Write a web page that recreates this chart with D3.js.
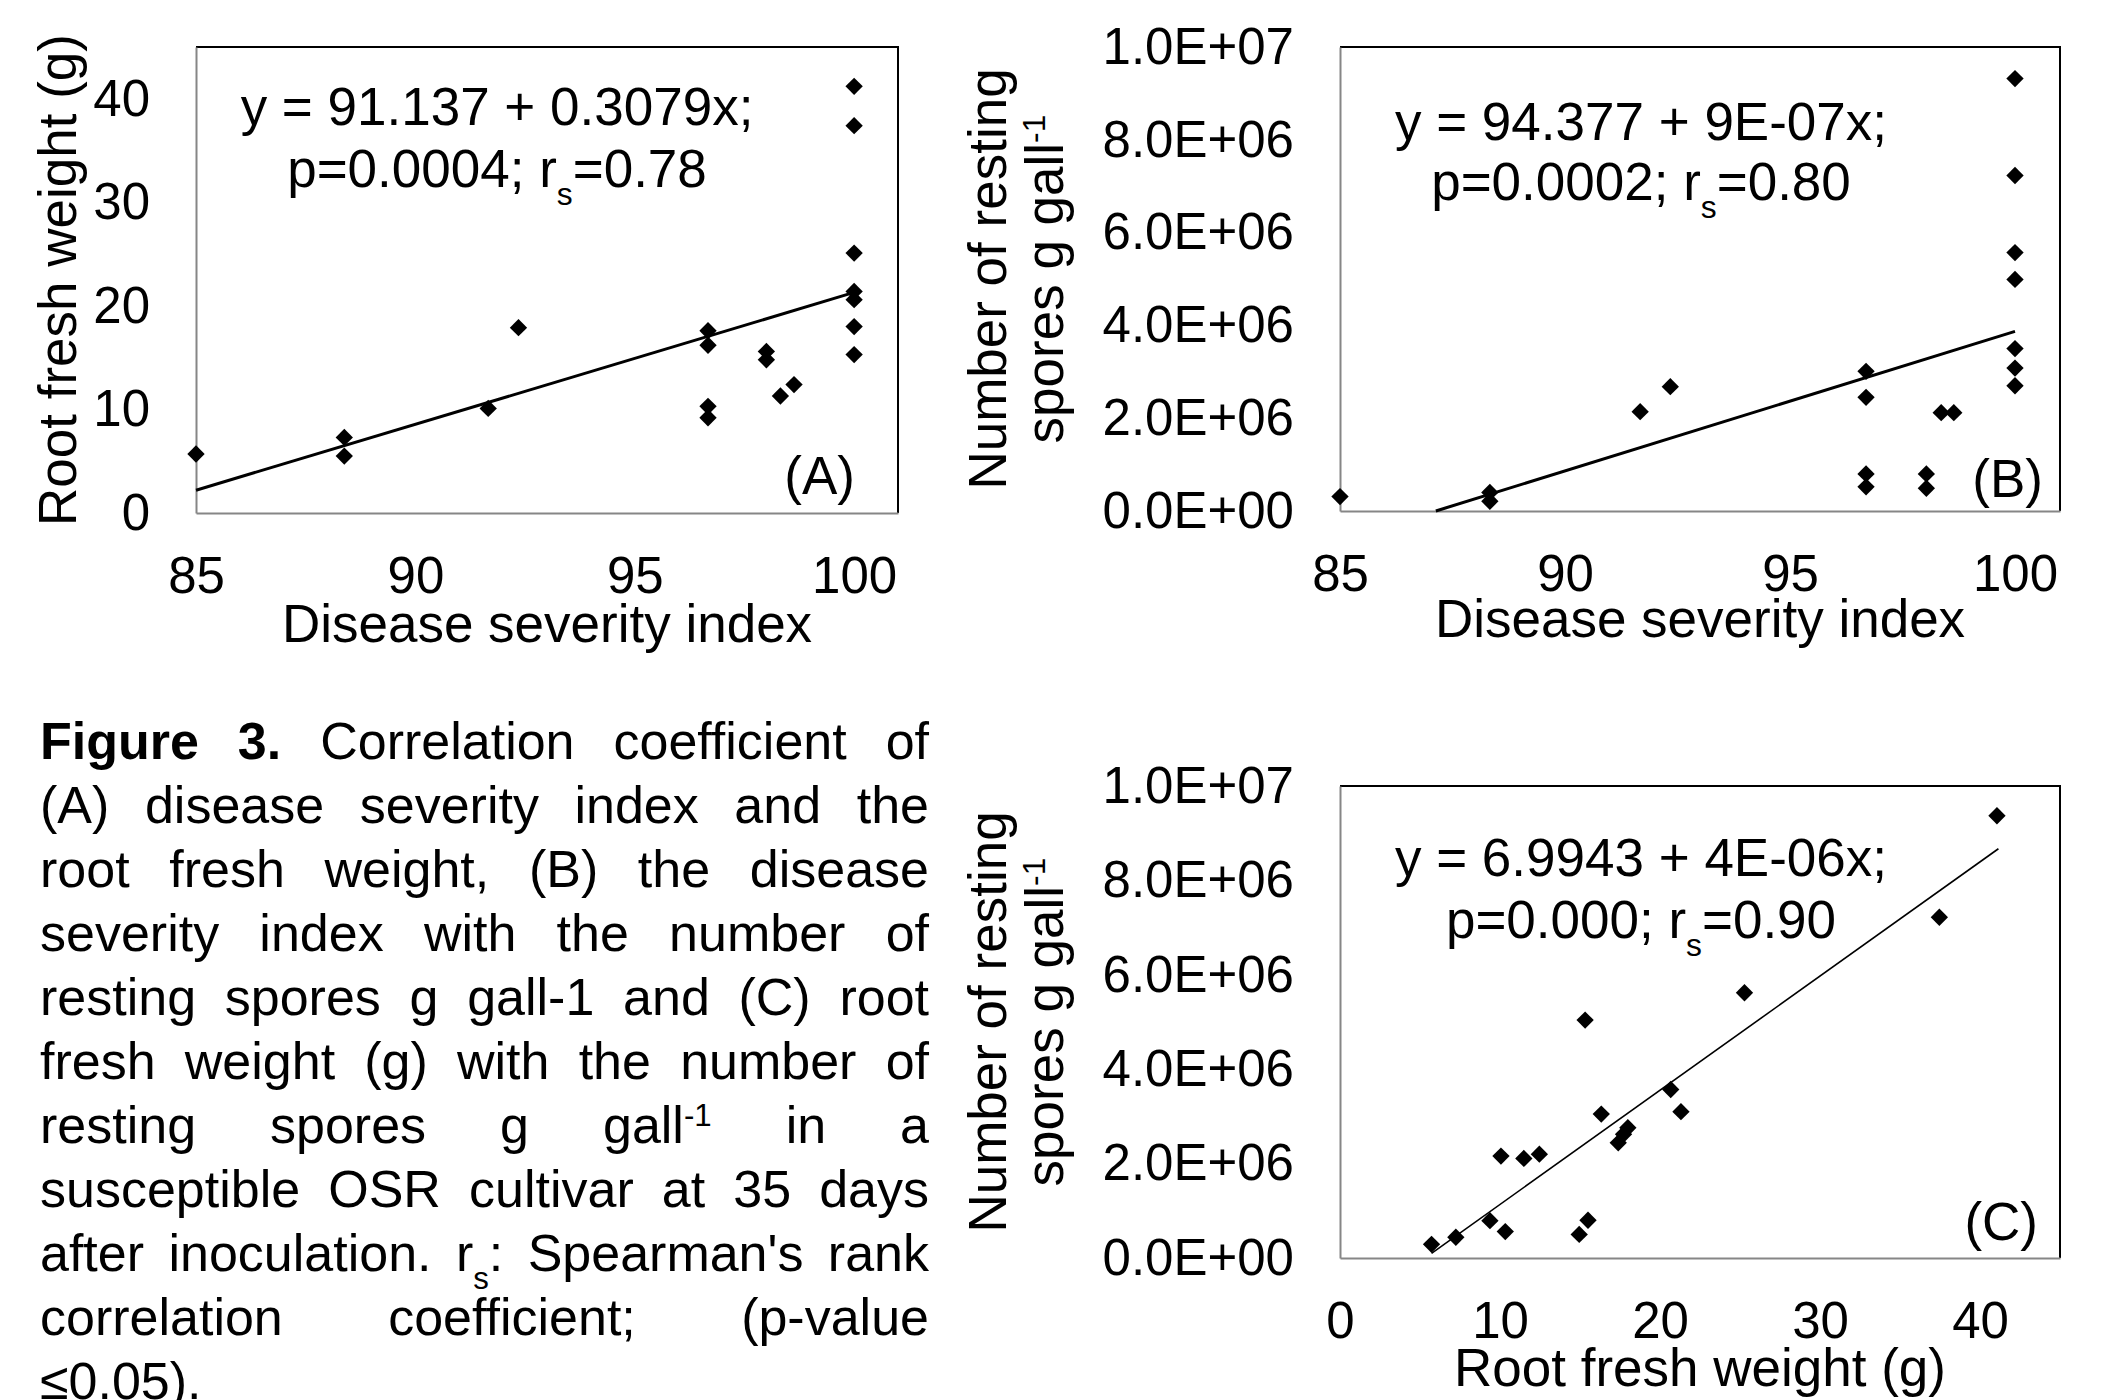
<!DOCTYPE html>
<html>
<head>
<meta charset="utf-8">
<script src="https://cdn.jsdelivr.net/npm/d3@7"></script>
<style>
  body { margin: 0; background: #fff; }
  text { font-family: "Liberation Sans", Arial, sans-serif; fill: #000; }
</style>
</head>
<body>
<svg id="fig" width="2102" height="1400"></svg>
<script>
    // (A) disease severity index vs root fresh weight
    const dsiA = [85, 88.38, 88.38, 91.66, 92.35, 96.67, 96.67, 96.67, 96.67, 98.0, 98.0, 98.32, 98.63, 100, 100, 100, 100, 100, 100, 100]
    const rfwA = [5.7, 7.3, 5.5, 10.1, 17.9, 17.6, 16.2, 10.3, 9.2, 15.6, 14.8, 11.3, 12.4, 41.2, 37.4, 25.1, 21.4, 20.6, 18.0, 15.3]
    const fitA = [[85, 2.2], [100, 21.3]]

    // (B) disease severity index vs resting spores
    const dsiB = [85, 88.33, 88.33, 91.67, 92.34, 96.69, 96.69, 96.69, 96.69, 98.03, 98.03, 98.36, 98.64, 100, 100, 100, 100, 100, 100, 100]
    const sporesB = [0.31e6, 0.40e6, 0.21e6, 2.14e6, 2.68e6, 3.01e6, 2.45e6, 0.80e6, 0.52e6, 0.80e6, 0.49e6, 2.12e6, 2.12e6, 9.32e6, 7.23e6, 5.57e6, 4.99e6, 3.50e6, 3.08e6, 2.70e6]
    const fitB = [[87.13, 0], [100, 3.87e6]]

    // (C) root fresh weight vs resting spores
    const rfwC = [5.72, 7.24, 9.37, 10.33, 10.06, 11.49, 12.46, 14.95, 15.5, 15.32, 16.33, 17.39, 17.72, 17.99, 20.67, 21.31, 25.28, 37.46, 41.06]
    const sporesC = [0.29e6, 0.44e6, 0.79e6, 0.56e6, 2.16e6, 2.11e6, 2.20e6, 0.50e6, 0.80e6, 5.04e6, 3.05e6, 2.44e6, 2.62e6, 2.76e6, 3.57e6, 3.10e6, 5.62e6, 7.22e6, 9.37e6]
    const fitC = [[5.72, 0.10e6], [41.15, 8.67e6]]

    // tick values and labels
    const dsiTicks = [85, 90, 95, 100]
    const rfwTicks = [0, 10, 20, 30, 40]
    const sporeTicks = [0, 2e6, 4e6, 6e6, 8e6, 1e7]
    const sporeLabels = ["0.0E+00", "2.0E+06", "4.0E+06", "6.0E+06", "8.0E+06", "1.0E+07"]

    const caption = [
        "*Figure* *3.* Correlation coefficient of",
        "(A) disease severity index and the",
        "root fresh weight, (B) the disease",
        "severity index with the number of",
        "resting spores g gall-1 and (C) root",
        "fresh weight (g) with the number of",
        "resting spores g gall^{-1} in a",
        "susceptible OSR cultivar at 35 days",
        "after inoculation. r_{s}: Spearman's rank",
        "correlation coefficient; (p-value",
        "≤0.05)."
    ]

    const svg = d3.select("#fig")
    const textSize = 53
    const tickSize = 51

    // plain text with *bold*, ^{sup} and _{sub} pieces
    function addRich(sel, str, size) {
        str.split(/(\*[^*]+\*|\^\{[^}]+\}|_\{[^}]+\})/).filter(s => s).forEach(s => {
            const t = sel.append("tspan")
            if (s[0] === "*") {
                t.text(s.slice(1, -1)).style("font-weight", "bold")
            } else if (s[0] === "^") {
                t.text(s.slice(2, -1)).attr("baseline-shift", "super").style("font-size", (size * 0.6) + "px")
            } else if (s[0] === "_") {
                t.text(s.slice(2, -1)).attr("baseline-shift", "sub").style("font-size", (size * 0.6) + "px")
            } else {
                t.text(s)
            }
        })
        return sel
    }

    function drawPanel(p) {
        const g = svg.append("g")
        const x = d3.scaleLinear().domain(p.xDomain).range([p.left, p.right])
        const y = d3.scaleLinear().domain(p.yDomain).range([p.bottom, p.top])

        // black top and right border
        g.append("path")
        .attr("d", `M${p.left},${p.top}H${p.right}V${p.bottom}`)
        .attr("fill", "none")
        .attr("stroke", "#000")
        .attr("stroke-width", 2)

        const xAxis = g.append("g")
        .attr("transform", `translate(0,${p.bottom})`)
        .call(d3.axisBottom(x).tickValues(p.xTicks).tickSize(0).tickSizeOuter(0).tickPadding(44))
        const yAxis = g.append("g")
        .attr("transform", `translate(${p.left},0)`)
        .call(d3.axisLeft(y).tickValues(p.yTicks).tickFormat((d, i) => p.yLabels ? p.yLabels[i] : d)
            .tickSize(0).tickSizeOuter(0).tickPadding(46))
        for (const a of [xAxis, yAxis]) {
            a.select(".domain").attr("stroke", "#868686").attr("stroke-width", 2)
            a.selectAll("text").style("font-size", tickSize + "px")
                .style("font-family", '"Liberation Sans", Arial, sans-serif')
        }

        // fitted line
        g.append("path")
        .attr("d", d3.line().x(d => x(d[0])).y(d => y(d[1]))(p.fit))
        .attr("fill", "none")
        .attr("stroke", "#000")
        .attr("stroke-width", p.fitWidth)

        // diamond markers
        g.selectAll(".pt")
        .data(p.xs.map((v, i) => [v, p.ys[i]]))
        .join("path")
        .attr("d", d3.symbol().type(d3.symbolSquare).size(150))
        .attr("transform", d => `translate(${x(d[0])},${y(d[1])}) rotate(45)`)
        .attr("fill", "#000")

        // equation
        p.eq.forEach((line, i) => {
            addRich(g.append("text"), line, textSize)
            .attr("x", p.eqX).attr("y", p.eqY[i])
            .attr("text-anchor", "middle")
            .style("font-size", textSize + "px")
        })

        // panel letter
        g.append("text")
        .attr("x", p.tagX).attr("y", p.tagY)
        .attr("text-anchor", "end")
        .style("font-size", textSize + "px")
        .text(p.tag)

        // axis titles
        g.append("text")
        .attr("x", (p.left + p.right) / 2).attr("y", p.xTitleY)
        .attr("text-anchor", "middle")
        .style("font-size", textSize + "px")
        .text(p.xTitle)
        const yc = (p.top + p.bottom) / 2
        p.yTitle.forEach((line, i) => {
            addRich(g.append("text"), line, textSize)
            .attr("transform", `translate(${p.yTitleX[i]},${yc}) rotate(-90)`)
            .attr("text-anchor", "middle")
            .style("font-size", textSize + "px")
        })
    }

    drawPanel({
        left: 196, right: 898, top: 47, bottom: 513,
        xDomain: [85, 101], yDomain: [0, 45],
        xTicks: dsiTicks, yTicks: rfwTicks,
        xs: dsiA, ys: rfwA, fit: fitA, fitWidth: 3,
        eq: ["y = 91.137 + 0.3079x;", "p=0.0004; r_{s}=0.78"], eqX: 497, eqY: [125, 187],
        tag: "(A)", tagX: 855, tagY: 494,
        xTitle: "Disease severity index", xTitleY: 642,
        yTitle: ["Root fresh weight (g)"], yTitleX: [76]
    })

    drawPanel({
        left: 1340, right: 2060, top: 47, bottom: 511,
        xDomain: [85, 101], yDomain: [0, 1e7],
        xTicks: dsiTicks, yTicks: sporeTicks, yLabels: sporeLabels,
        xs: dsiB, ys: sporesB, fit: fitB, fitWidth: 3,
        eq: ["y = 94.377 + 9E-07x;", "p=0.0002; r_{s}=0.80"], eqX: 1641, eqY: [140, 200],
        tag: "(B)", tagX: 2043, tagY: 497,
        xTitle: "Disease severity index", xTitleY: 637,
        yTitle: ["Number of resting", "spores g gall^{-1}"], yTitleX: [1006, 1063]
    })

    drawPanel({
        left: 1340, right: 2060, top: 786, bottom: 1258,
        xDomain: [0, 45], yDomain: [0, 1e7],
        xTicks: rfwTicks, yTicks: sporeTicks, yLabels: sporeLabels,
        xs: rfwC, ys: sporesC, fit: fitC, fitWidth: 1.6,
        eq: ["y = 6.9943 + 4E-06x;", "p=0.000; r_{s}=0.90"], eqX: 1641, eqY: [876, 938],
        tag: "(C)", tagX: 2038, tagY: 1240,
        xTitle: "Root fresh weight (g)", xTitleY: 1386,
        yTitle: ["Number of resting", "spores g gall^{-1}"], yTitleX: [1006, 1063]
    })

    // justified caption
    const capLeft = 40, capRight = 929, capTop = 759, capStep = 64, capSize = 52
    const cap = svg.append("g")
    caption.forEach((line, li) => {
        const words = line.split(" ")
        const nodes = words.map(w => addRich(cap.append("text"), w, capSize)
            .style("font-size", capSize + "px")
            .attr("y", capTop + li * capStep))
        const widths = nodes.map(n => n.node().getComputedTextLength())
        const total = d3.sum(widths)
        const last = li === caption.length - 1
        const gap = (last || words.length < 2) ? capSize * 0.278 : (capRight - capLeft - total) / (words.length - 1)
        let xPos = capLeft
        nodes.forEach((n, i) => {
            n.attr("x", xPos)
            xPos += widths[i] + gap
        })
    })
</script>
</body>
</html>
